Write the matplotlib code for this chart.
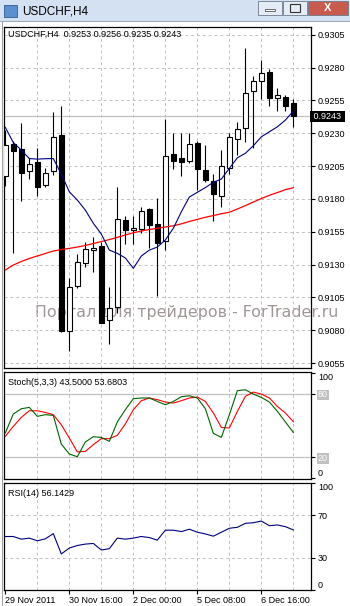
import numpy as np
import matplotlib
matplotlib.use("Agg")
import matplotlib.pyplot as plt
from matplotlib.patches import Rectangle
import matplotlib.transforms as mtransforms

plt.rcParams['font.family'] = ['Liberation Sans', 'DejaVu Sans']

W, H = 350, 606

# USDCHF H4 candles, 29 Nov 2011 08:00 .. 7 Dec 2011
open_ = [0.91974, 0.92218, 0.92177, 0.92010, 0.92081, 0.91903, 0.92010, 0.92286,
         0.90791, 0.91134, 0.91309, 0.91408, 0.91441, 0.90877, 0.90974, 0.91639,
         0.91563, 0.91567, 0.91723, 0.91608, 0.91477, 0.92142, 0.92111, 0.92090,
         0.92228, 0.92017, 0.91936, 0.91824, 0.92033, 0.92253, 0.92337, 0.92624,
         0.92700, 0.92764, 0.92566, 0.92576, 0.92530]
high = [0.92324, 0.92243, 0.92375, 0.92109, 0.92185, 0.92033, 0.92461, 0.92507,
        0.91195, 0.91380, 0.91474, 0.91507, 0.91474, 0.91126, 0.91888, 0.91669,
        0.91669, 0.91738, 0.91730, 0.91804, 0.92408, 0.92299, 0.92299, 0.92304,
        0.92243, 0.92210, 0.91987, 0.92172, 0.92304, 0.92385, 0.92951, 0.92736,
        0.92857, 0.92789, 0.92646, 0.92591, 0.92560]
low = [0.91898, 0.91385, 0.91786, 0.91953, 0.91824, 0.91888, 0.91982, 0.90786,
       0.90644, 0.91119, 0.91283, 0.91245, 0.90855, 0.90695, 0.90928, 0.91456,
       0.91456, 0.91542, 0.91423, 0.91060, 0.91410, 0.92027, 0.91974, 0.92071,
       0.91867, 0.91931, 0.91634, 0.91740, 0.91987, 0.92134, 0.92231, 0.92190,
       0.92560, 0.92509, 0.92471, 0.92471, 0.92350]
close = [0.92210, 0.92167, 0.91995, 0.92063, 0.91893, 0.91995, 0.92273, 0.90796,
         0.91126, 0.91317, 0.91416, 0.91426, 0.90857, 0.90967, 0.91644, 0.91563,
         0.91578, 0.91707, 0.91599, 0.91466, 0.92126, 0.92090, 0.92083, 0.92218,
         0.92025, 0.91946, 0.91835, 0.92048, 0.92269, 0.92329, 0.92604, 0.92697,
         0.92756, 0.92570, 0.92588, 0.92509, 0.92430]

ma_fast = [0.92345, 0.92229, 0.92172, 0.92107, 0.92103, 0.92106, 0.92107, 0.91989,
           0.91854, 0.91791, 0.91715, 0.91614, 0.91532, 0.91410, 0.91385, 0.91350,
           0.91271, 0.91365, 0.91410, 0.91433, 0.91487, 0.91576, 0.91702, 0.91814,
           0.91850, 0.91886, 0.91926, 0.91951, 0.92033, 0.92113, 0.92147, 0.92205,
           0.92273, 0.92311, 0.92349, 0.92400, 0.92469]
ma_slow = [0.91258, 0.91296, 0.91323, 0.91346, 0.91365, 0.91384, 0.91403, 0.91414,
           0.91423, 0.91433, 0.91445, 0.91460, 0.91475, 0.91490, 0.91507, 0.91525,
           0.91542, 0.91555, 0.91567, 0.91576, 0.91586, 0.91595, 0.91610, 0.91628,
           0.91644, 0.91660, 0.91673, 0.91687, 0.91698, 0.91723, 0.91749, 0.91776,
           0.91803, 0.91827, 0.91848, 0.91870, 0.91885]

stoch_main = [43.0, 61.0, 66.0, 67.3, 58.8, 60.4, 59.7, 32.6, 23.2, 20.6, 34.5, 39.5,
              38.9, 35.1, 53.5, 65.1, 75.5, 76.2, 76.2, 72.9, 69.8, 72.9, 77.4, 78.3,
              76.2, 66.0, 42.7, 38.9, 60.4, 83.1, 84.0, 79.9, 76.7, 72.4, 63.5, 53.5, 43.5]
stoch_signal = [39.8, 49.3, 57.8, 64.1, 64.1, 62.5, 60.4, 50.9, 38.3, 25.1, 25.6, 32.0,
                37.7, 37.7, 40.8, 51.6, 65.1, 73.6, 76.2, 74.6, 72.4, 71.4, 73.6, 76.2,
                77.1, 72.9, 62.0, 48.3, 47.8, 63.5, 77.7, 81.8, 79.9, 76.2, 68.2, 62.0, 53.68]
rsi = [50.0, 50.0, 47.5, 48.5, 46.0, 47.8, 52.7, 33.7, 39.2, 41.6, 42.9, 43.5,
       37.4, 38.6, 48.5, 47.5, 48.5, 50.0, 49.0, 46.6, 55.9, 55.9, 54.6, 56.8,
       54.0, 52.4, 50.3, 54.0, 57.7, 58.6, 62.3, 62.9, 64.4, 60.1, 60.8, 59.2, 56.14]

price_ticks = [0.9055, 0.9080, 0.9105, 0.9130, 0.9155, 0.9180, 0.9205, 0.9230,
               0.9255, 0.9280, 0.9305]
date_labels = ["29 Nov 2011", "30 Nov 16:00", "2 Dec 00:00", "5 Dec 08:00", "6 Dec 16:00"]
date_bars = [0, 8, 16, 24, 32]
grid_bars = [4, 8, 12, 16, 20, 24, 28, 32, 36]
last_price = 0.9243

GRID = '#c0c0c0'
FS = 6.5


def box(top, bottom):
    return [4 / W, 1 - bottom / H, (311 - 4) / W, (bottom - top) / H]


def style(ax):
    for s in ax.spines.values():
        s.set_linewidth(0.9)
        s.set_color('black')
    ax.patch.set_visible(False)
    ax.yaxis.tick_right()
    ax.tick_params(axis='y', length=3, width=0.8, pad=2, labelsize=FS, direction='out')
    ax.set_xlim(-0.16, 38.2)
    for b in grid_bars:
        ax.axvline(b, color=GRID, lw=0.7, ls=(0, (3, 3)), zorder=0)


def edge_labels(ax):
    # MT4 keeps the top and bottom scale labels inside the panel
    for lbl in ax.get_yticklabels():
        if lbl.get_text() == "100":
            lbl.set_verticalalignment('top')
        elif lbl.get_text() == "0":
            lbl.set_verticalalignment('bottom')


fig = plt.figure(figsize=(W / 100, H / 100), dpi=100)
fig.patch.set_facecolor('white')

# window chrome
fig.patches.append(Rectangle((0, 1 - 21 / H), 1, 21 / H, transform=fig.transFigure,
                             facecolor='#d4e1f2', edgecolor='none'))
fig.patches.append(Rectangle((0, 1 - 22 / H), 1, 1 / H, transform=fig.transFigure,
                             facecolor='#a0a8b4', edgecolor='none'))
fig.patches.append(Rectangle((2 / W, 0), 1 / W, 1 - 22 / H, transform=fig.transFigure,
                             facecolor='#a0a0a0', edgecolor='none'))
fig.patches.append(Rectangle((4 / W, 1 - 17 / H), 13 / W, 12 / H, transform=fig.transFigure,
                             facecolor='#5b8fd0', edgecolor='#2d5a9a', lw=0.6))
fig.text(22 / W, 1 - 11 / H, "USDCHF,H4", fontsize=8.5, va='center', ha='left')
for x0, x1, fc in [(258, 282, '#e4ecf6'), (283, 307, '#e4ecf6'), (308, 348, '#c85a4e')]:
    fig.patches.append(Rectangle((x0 / W, 1 - 15 / H), (x1 - x0) / W, 14 / H,
                                 transform=fig.transFigure, facecolor=fc,
                                 edgecolor='#6d7a8c', lw=0.6))
fig.patches.append(Rectangle((265 / W, 1 - 11 / H), 10 / W, 2 / H, transform=fig.transFigure,
                             facecolor='white', edgecolor='#333', lw=0.5))
fig.patches.append(Rectangle((290 / W, 1 - 12 / H), 10 / W, 8 / H, transform=fig.transFigure,
                             facecolor='none', edgecolor='#333', lw=0.8))
fig.text(328 / W, 1 - 8 / H, "X", fontsize=8, fontweight='bold', color='white',
         ha='center', va='center')

# watermark, drawn under the chart marks
fig.text(187 / W, 1 - 313 / H, "Портал для трейдеров - ForTrader.ru", fontsize=11.4,
         color='#a09696', ha='center', va='center', family=['DejaVu Sans'], zorder=-1)

# price panel
ax = fig.add_axes(box(27, 368))
style(ax)
x = np.arange(len(close))
o = np.array(open_)
c = np.array(close)
up = c >= o
ax.vlines(x, low, high, color='black', lw=0.8, zorder=3)
ax.bar(x[up], (c - o)[up], bottom=o[up], width=0.6, color='white', edgecolor='black',
       lw=0.8, zorder=4)
ax.bar(x[~up], (o - c)[~up], bottom=c[~up], width=0.6, color='black', edgecolor='black',
       lw=0.8, zorder=4)
ax.plot(x, ma_slow, color='#ff0000', lw=0.9, zorder=5)
ax.plot(x, ma_fast, color='#000080', lw=0.8, zorder=5)
ax.axhline(last_price, color=GRID, lw=0.9, zorder=2)
ax.set_ylim(0.90512, 0.93109)
ax.set_yticks(price_ticks)
ax.set_yticklabels(["%.4f" % p for p in price_ticks])
ax.yaxis.grid(True, color=GRID, lw=0.7, ls=(0, (3, 3)), zorder=0)
ax.set_xticks([])
ax.text(1.0, last_price, " %.4f " % last_price,
        transform=mtransforms.blended_transform_factory(ax.transAxes, ax.transData),
        fontsize=FS, color='white', va='center', ha='left',
        bbox=dict(facecolor='black', edgecolor='none', pad=0.8))
ax.text(0.013, 0.978, "USDCHF,H4  0.9253 0.9256 0.9235 0.9243", transform=ax.transAxes,
        fontsize=FS, va='center', ha='left')

# stochastic panel
ax2 = fig.add_axes(box(372, 479))
style(ax2)
ax2.plot(x, stoch_signal, color='#ff0000', lw=0.8, zorder=4)
ax2.plot(x, stoch_main, color='#006400', lw=0.8, zorder=5)
ax2.axhline(80, color=GRID, lw=0.9, zorder=1)
ax2.axhline(20, color=GRID, lw=0.9, zorder=1)
ax2.set_ylim(-0.5, 100.8)
ax2.set_yticks([0, 20, 80, 100])
ax2.set_yticklabels(["0", "20", "80", "100"])
for lbl in ax2.get_yticklabels():
    if lbl.get_text() in ("20", "80"):
        lbl.set_color('white')
        lbl.set_bbox(dict(facecolor=GRID, edgecolor='none', pad=0.6))
edge_labels(ax2)
ax2.set_xticks([])
ax2.text(0.013, 0.9, "Stoch(5,3,3) 43.5000 53.6803", transform=ax2.transAxes,
         fontsize=FS, va='center', ha='left')

# RSI panel
ax3 = fig.add_axes(box(483, 590))
style(ax3)
ax3.plot(x, rsi, color='#000080', lw=0.8, zorder=5)
ax3.set_ylim(0, 100)
ax3.set_yticks([0, 30, 70, 100])
ax3.set_yticklabels(["0", "30", "70", "100"])
edge_labels(ax3)
ax3.axhline(70, color=GRID, lw=0.7, ls=(0, (3, 3)), zorder=0)
ax3.axhline(30, color=GRID, lw=0.7, ls=(0, (3, 3)), zorder=0)
ax3.set_xticks(date_bars)
ax3.set_xticklabels(date_labels)
ax3.tick_params(axis='x', length=3, width=0.8, pad=1.5, labelsize=FS, direction='out')
for lbl in ax3.get_xticklabels():
    lbl.set_horizontalalignment('left')
ax3.text(0.013, 0.9, "RSI(14) 56.1429", transform=ax3.transAxes,
         fontsize=FS, va='center', ha='left')

fig.savefig("out.png", dpi=100)
